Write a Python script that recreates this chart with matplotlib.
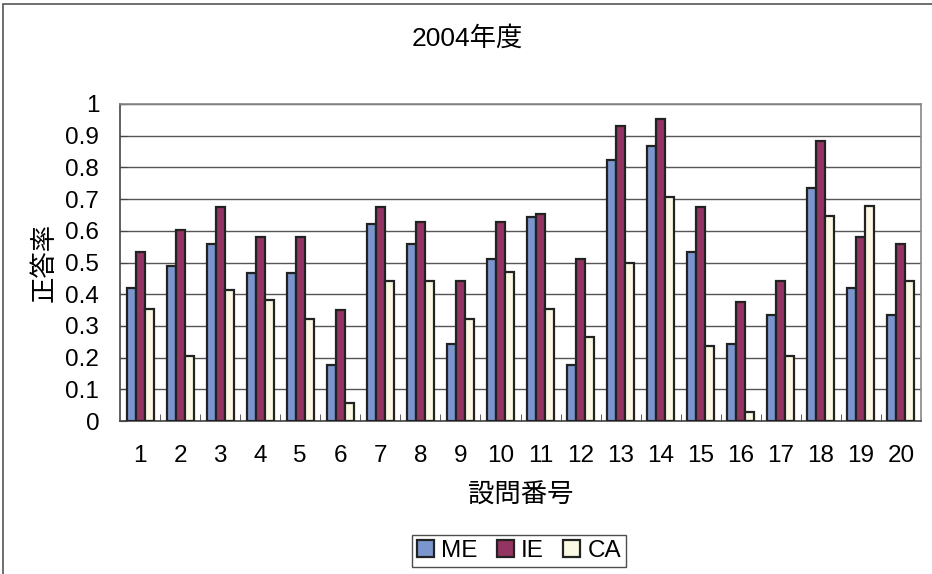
import matplotlib
matplotlib.use("Agg")
import matplotlib.pyplot as plt
import numpy as np
from matplotlib.patches import Rectangle

plt.rcParams['font.family'] = ['Liberation Sans', 'Noto Sans CJK JP', 'DejaVu Sans']

questions = [str(i) for i in range(1, 21)]
me = [0.421, 0.489, 0.557, 0.467, 0.467, 0.178, 0.622, 0.557, 0.244, 0.511,
      0.645, 0.178, 0.823, 0.866, 0.533, 0.244, 0.334, 0.734, 0.421, 0.334]
ie = [0.534, 0.604, 0.675, 0.581, 0.581, 0.349, 0.675, 0.627, 0.443, 0.627,
      0.652, 0.511, 0.932, 0.954, 0.675, 0.374, 0.443, 0.883, 0.581, 0.558]
ca = [0.352, 0.205, 0.413, 0.383, 0.323, 0.058, 0.441, 0.441, 0.323, 0.471,
      0.352, 0.265, 0.500, 0.706, 0.236, 0.029, 0.205, 0.648, 0.678, 0.441]
series_names = ['ME', 'IE', 'CA']
colors = ['#7b95cd', '#943462', '#fbf8e3']

fig = plt.figure(figsize=(9.32, 5.74), dpi=100)
ax = fig.add_axes([120 / 932, 1 - 421 / 574, 801 / 932, 317 / 574])

# outer chart border
fig.patches.append(Rectangle((3 / 932, -0.01), 1.0, 1 - 4 / 574 + 0.01,
                             transform=fig.transFigure, fill=False,
                             edgecolor='#555555', linewidth=1.2))

x = np.arange(len(questions))
w = 0.225
for i, (vals, name, c) in enumerate(zip([me, ie, ca], series_names, colors)):
    ax.bar(x + (i - 1) * w, vals, width=w, color=c, edgecolor='#222222',
           linewidth=1.6, label=name, zorder=3)

ax.set_xlim(-0.5, len(questions) - 0.5)
ax.set_ylim(0, 1)
ax.set_yticks(np.arange(0, 1.01, 0.1))
ax.set_yticklabels(['0'] + [f'{v:.1f}' for v in np.arange(0.1, 1.0, 0.1)] + ['1'])
ax.yaxis.grid(True, color='#555555', linewidth=1.0, zorder=0)
ax.set_xticks(x)
ax.set_xticklabels(questions)
ax.set_xticks(np.arange(0.5, len(questions) - 0.5, 1), minor=True)
ax.tick_params(axis='x', which='major', length=0, labelsize=17.5, pad=17)
ax.tick_params(axis='x', which='minor', length=5, direction='in', color='#444444')
ax.tick_params(axis='y', length=5, direction='in', labelsize=17.5, pad=15, color='#444444')

for side in ['top', 'right']:
    ax.spines[side].set_color('#888888')
    ax.spines[side].set_linewidth(1.2)
for side in ['left', 'bottom']:
    ax.spines[side].set_color('#444444')
    ax.spines[side].set_linewidth(1.2)

ax.set_xlabel('設問番号', fontsize=19, labelpad=12)
ax.set_ylabel('正答率', fontsize=19, labelpad=6)
fig.text(467 / 932, 1 - 38 / 574, '2004年度', ha='center', va='center', fontsize=19)

leg = fig.legend(loc='center', bbox_to_anchor=(519 / 932, 1 - 551 / 574), ncol=3,
                 fontsize=17.5, frameon=True, fancybox=False, edgecolor='#222222',
                 handlelength=0.7, handleheight=0.7, handletextpad=0.3,
                 columnspacing=0.8, borderpad=0.2)
leg.get_frame().set_linewidth(1.0)

fig.savefig('out.png', dpi=100)
